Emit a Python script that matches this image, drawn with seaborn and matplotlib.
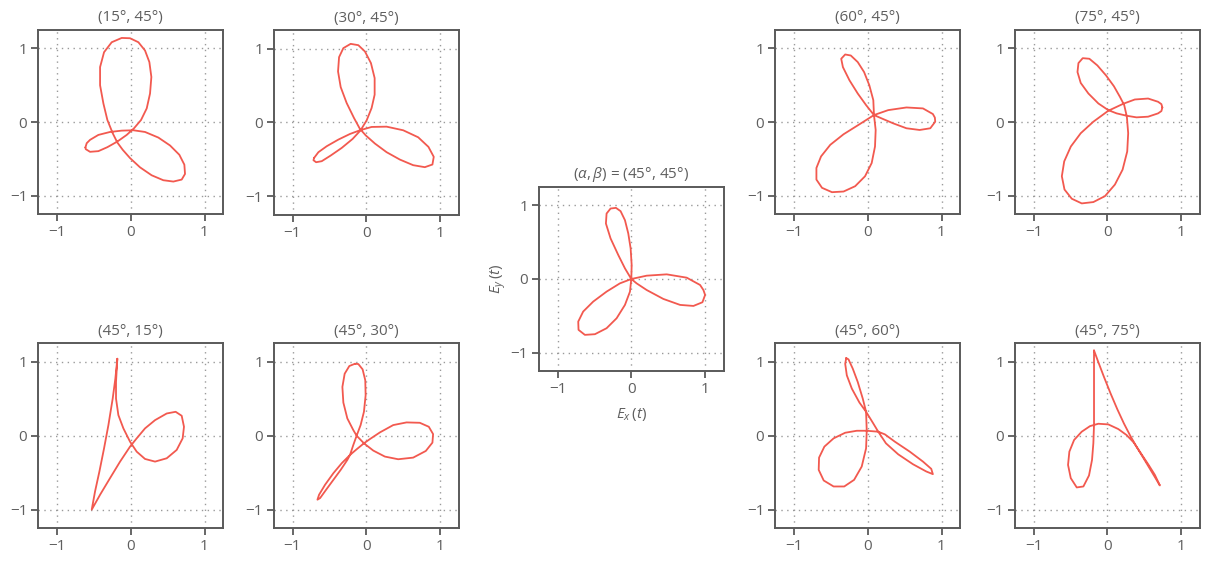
import numpy as np
import pandas as pd
import matplotlib
matplotlib.use("Agg")
import matplotlib.pyplot as plt
import seaborn as sns

# ---------------- data ----------------
titles = ["(15°, 45°)", "(30°, 45°)", r"$(\alpha, \beta)$ = (45°, 45°)", "(60°, 45°)", "(75°, 45°)",
          "(45°, 15°)", "(45°, 30°)", "(45°, 60°)", "(45°, 75°)"]
tick_values = [-1, 0, 1]
tick_labels = ["\u22121", "0", "1"]

a15_b45_x = [-0.614, -0.596, -0.551, -0.438, -0.280, -0.122, 0.036, 0.194, 0.375, 0.533, 0.659, 0.727, 0.736, 0.691,
             0.578, 0.442, 0.284, 0.126, -0.009, -0.108, -0.181, -0.244, -0.316, -0.370, -0.415, -0.415, -0.361,
             -0.257, -0.122, -0.009, 0.104, 0.194, 0.253, 0.280, 0.262, 0.217, 0.140, 0.045, -0.054, -0.181,
             -0.316, -0.438, -0.551, -0.609]
a15_b45_y = [-0.345, -0.287, -0.242, -0.175, -0.135, -0.117, -0.112, -0.135, -0.211, -0.318, -0.444, -0.578, -0.704,
             -0.780, -0.807, -0.789, -0.722, -0.614, -0.489, -0.377, -0.278, -0.152, 0.027, 0.251, 0.498, 0.744,
             0.946, 1.081, 1.139, 1.135, 1.081, 0.969, 0.812, 0.610, 0.386, 0.184, 0.027, -0.085, -0.175, -0.265,
             -0.341, -0.395, -0.404, -0.368]

a30_b45_x = [-0.707, -0.649, -0.536, -0.378, -0.221, -0.086, 0.072, 0.275, 0.500, 0.703, 0.842, 0.914, 0.896,
             0.793, 0.635, 0.455, 0.275, 0.117, -0.005, -0.086, -0.167, -0.266, -0.347, -0.383, -0.369, -0.311,
             -0.212, -0.108, -0.018, 0.063, 0.113, 0.113, 0.072, 0.005, -0.077, -0.185, -0.333, -0.482, -0.604,
             -0.680, -0.716]
a30_b45_y = [-0.482, -0.405, -0.324, -0.234, -0.158, -0.108, -0.063, -0.059, -0.108, -0.203, -0.333, -0.468,
             -0.572, -0.608, -0.581, -0.505, -0.405, -0.288, -0.180, -0.090, 0.059, 0.261, 0.477, 0.689, 0.883,
             1.005, 1.063, 1.045, 0.959, 0.802, 0.599, 0.374, 0.194, 0.027, -0.108, -0.225, -0.347, -0.450,
             -0.527, -0.541, -0.514]

a45_b45_x = [0.0, -0.086, -0.176, -0.281, -0.344, -0.335, -0.281, -0.208, -0.145, -0.086, -0.041, -0.009, 0.005,
             0.0, -0.018, -0.086, -0.199, -0.335, -0.493, -0.629, -0.715, -0.719, -0.652, -0.516, -0.335, -0.154,
             0.0, 0.208, 0.480, 0.751, 0.932, 0.977, 1.0, 0.964, 0.842, 0.661, 0.434, 0.208, 0.072]
a45_b45_y = [0.0, 0.144, 0.324, 0.550, 0.752, 0.887, 0.955, 0.964, 0.919, 0.797, 0.617, 0.414, 0.189,
             0.0, -0.171, -0.351, -0.532, -0.667, -0.748, -0.757, -0.689, -0.577, -0.441, -0.306, -0.171, -0.059,
             0.0, 0.045, 0.063, 0.018, -0.081, -0.149, -0.216, -0.315, -0.365, -0.351, -0.270, -0.149, -0.059]

a60_b45_x = [0.085, -0.022, -0.135, -0.247, -0.336, -0.359, -0.305, -0.229, -0.135, -0.049, 0.022, 0.076,
             0.085, 0.108, 0.099, 0.054, -0.036, -0.170, -0.327, -0.484, -0.619, -0.695, -0.695, -0.632, -0.507,
             -0.327, -0.126, 0.085, 0.278, 0.525, 0.749, 0.883, 0.910, 0.915, 0.848, 0.704, 0.525, 0.345, 0.188]
a60_b45_y = [0.094, 0.229, 0.386, 0.565, 0.744, 0.857, 0.915, 0.901, 0.812, 0.677, 0.498, 0.296,
             0.094, -0.108, -0.332, -0.556, -0.735, -0.870, -0.942, -0.951, -0.892, -0.780, -0.623, -0.466, -0.309,
             -0.166, -0.040, 0.094, 0.161, 0.197, 0.184, 0.108, 0.060, 0.004, -0.085, -0.108, -0.085, -0.018, 0.049]

a75_b45_x = [0.746, 0.733, 0.688, 0.553, 0.396, 0.261, 0.126, 0.013, -0.121, -0.256, -0.360, -0.404, -0.391, -0.333,
             -0.243, -0.135, -0.018, 0.090, 0.171, 0.229, 0.265, 0.283, 0.270, 0.207, 0.103, -0.031, -0.189,
             -0.346, -0.481, -0.580, -0.616, -0.584, -0.494, -0.360, -0.189, 0.013, 0.216, 0.373, 0.553, 0.688,
             0.733]
a75_b45_y = [0.197, 0.148, 0.117, 0.072, 0.063, 0.085, 0.117, 0.161, 0.251, 0.386, 0.529, 0.677, 0.798, 0.865,
             0.857, 0.767, 0.632, 0.484, 0.341, 0.229, 0.072, -0.152, -0.399, -0.646, -0.848, -1.004, -1.085,
             -1.103, -1.040, -0.915, -0.735, -0.534, -0.332, -0.152, 0.004, 0.152, 0.247, 0.305, 0.318, 0.274,
             0.242]

a45_b15_x = [-0.181, -0.199, -0.199, -0.167, -0.099, -0.009, 0.081, 0.194, 0.330, 0.488, 0.623, 0.704, 0.722,
             0.691, 0.609, 0.488, 0.330, 0.194, 0.081, -0.009, -0.144, -0.280, -0.415, -0.528, -0.483, -0.424,
             -0.361, -0.302, -0.244, -0.208]
a45_b15_y = [1.043, 0.728, 0.503, 0.279, 0.099, -0.081, -0.216, -0.315, -0.351, -0.306, -0.193, -0.036, 0.121,
             0.270, 0.324, 0.301, 0.211, 0.099, -0.036, -0.148, -0.351, -0.575, -0.800, -1.002, -0.755, -0.485,
             -0.171, 0.144, 0.503, 0.773]

a45_b30_x = [-0.153, -0.230, -0.293, -0.324, -0.311, -0.257, -0.176, -0.131, -0.032, 0.095, 0.252, 0.432, 0.635,
             0.806, 0.896, 0.905, 0.847, 0.725, 0.545, 0.365, 0.185, 0.050, -0.032, -0.131, -0.221, -0.333,
             -0.446, -0.559, -0.640, -0.662, -0.626, -0.545, -0.446, -0.347, -0.257, -0.221, -0.176, -0.131,
             -0.077, -0.032, -0.009, -0.014, -0.050, -0.108]
a45_b30_y = [0.975, 0.944, 0.840, 0.661, 0.449, 0.234, 0.076, 0.000, -0.103, -0.202, -0.283, -0.319, -0.297,
             -0.207, -0.094, 0.022, 0.121, 0.175, 0.180, 0.144, 0.045, -0.045, -0.103, -0.184, -0.261, -0.373,
             -0.508, -0.665, -0.800, -0.867, -0.845, -0.733, -0.598, -0.463, -0.328, -0.261, -0.126, 0.000,
             0.144, 0.324, 0.548, 0.751, 0.899, 0.971]

a45_b60_x = [-0.291, -0.305, -0.283, -0.215, -0.112, -0.022, 0.067, 0.143, 0.247, 0.413, 0.614, 0.794, 0.883,
             0.861, 0.749, 0.570, 0.368, 0.233, 0.143, -0.013, -0.148, -0.305, -0.462, -0.587, -0.659, -0.664,
             -0.596, -0.462, -0.318, -0.184, -0.081, -0.022, -0.013, -0.022, -0.067, -0.135, -0.202, -0.260]
a45_b60_y = [1.052, 0.975, 0.818, 0.638, 0.449, 0.324, 0.180, 0.054, -0.103, -0.252, -0.387, -0.485, -0.521,
             -0.449, -0.351, -0.216, -0.081, 0.018, 0.054, 0.067, 0.067, 0.040, -0.036, -0.148, -0.297, -0.463,
             -0.607, -0.688, -0.688, -0.598, -0.418, -0.171, 0.067, 0.324, 0.503, 0.728, 0.908, 1.034]

a45_b75_x = [-0.180, -0.122, -0.045, 0.045, 0.135, 0.225, 0.306, 0.387, 0.486, 0.586, 0.667, 0.712, 0.644,
             0.554, 0.464, 0.360, 0.261, 0.149, 0.014, -0.122, -0.234, -0.347, -0.450, -0.514, -0.532, -0.495,
             -0.414, -0.324, -0.248, -0.207, -0.189, -0.180, -0.180, -0.180, -0.180]
a45_b75_y = [1.155, 0.998, 0.796, 0.571, 0.360, 0.166, 0.009, -0.135, -0.297, -0.463, -0.598, -0.674, -0.530,
             -0.387, -0.252, -0.094, 0.009, 0.090, 0.153, 0.162, 0.130, 0.054, -0.058, -0.216, -0.396, -0.575,
             -0.701, -0.688, -0.539, -0.328, -0.103, 0.144, 0.413, 0.728, 0.998]

curves = [(a15_b45_x, a15_b45_y), (a30_b45_x, a30_b45_y), (a45_b45_x, a45_b45_y),
          (a60_b45_x, a60_b45_y), (a75_b45_x, a75_b45_y), (a45_b15_x, a45_b15_y),
          (a45_b30_x, a45_b30_y), (a45_b60_x, a45_b60_y), (a45_b75_x, a45_b75_y)]

# ---------------- style ----------------
sns.set_theme(style="white")
plt.rcParams['font.family'] = ['Open Sans', 'DejaVu Sans']
plt.rcParams['mathtext.fontset'] = 'custom'
plt.rcParams['mathtext.rm'] = 'Open Sans'
plt.rcParams['mathtext.it'] = 'Open Sans:italic'
plt.rcParams['axes.unicode_minus'] = True

FRAME = '#5a5a5a'
TEXT = '#5f5f5f'
GRID = '#9a9a9a'
LINE = '#f2594f'

W, H = 1216, 561
fig = plt.figure(figsize=(W / 100, H / 100), dpi=100)

# panel centres in pixels (x, y from top)
centres = [(130.7, 122.0), (366.3, 122.3), (631.3, 279.0), (867.7, 122.0), (1107.3, 122.0),
           (130.7, 435.7), (366.3, 435.7), (867.7, 435.7), (1107.3, 435.7)]
half = 92.25

for i, ((cx, cy), (xs, ys), title) in enumerate(zip(centres, curves, titles)):
    ax = fig.add_axes([(cx - half) / W, 1 - (cy + half) / H, 2 * half / W, 2 * half / H])
    df = pd.DataFrame({"x": list(xs) + [xs[0]], "y": list(ys) + [ys[0]]})
    sns.lineplot(data=df, x="x", y="y", sort=False, estimator=None, ax=ax,
                 color=LINE, linewidth=1.3, solid_joinstyle='round', solid_capstyle='round')
    ax.set_xlim(-1.25, 1.25)
    ax.set_ylim(-1.25, 1.25)
    ax.set_xticks(tick_values)
    ax.set_yticks(tick_values)
    ax.set_xticklabels(tick_labels)
    ax.set_yticklabels(tick_labels)
    ax.grid(True, linestyle=(0, (1, 3.2)), color=GRID, linewidth=1.0)
    for sp in ax.spines.values():
        sp.set_color(FRAME)
        sp.set_linewidth(1.4)
        sp.set_visible(True)
    ax.tick_params(direction='out', length=5, width=1.3, color=FRAME, labelcolor=TEXT,
                   labelsize=11, pad=3, bottom=True, left=True)
    ax.set_title(title, fontsize=11, color=TEXT, pad=6)
    if i == 2:
        ax.set_xlabel(r"$E_x\,(t)$", fontsize=11, color=TEXT, labelpad=6)
        ax.set_ylabel(r"$E_y\,(t)$", fontsize=11, color=TEXT, labelpad=2)
    else:
        ax.set_xlabel("")
        ax.set_ylabel("")

fig.savefig("out.png", dpi=100, facecolor="white")
